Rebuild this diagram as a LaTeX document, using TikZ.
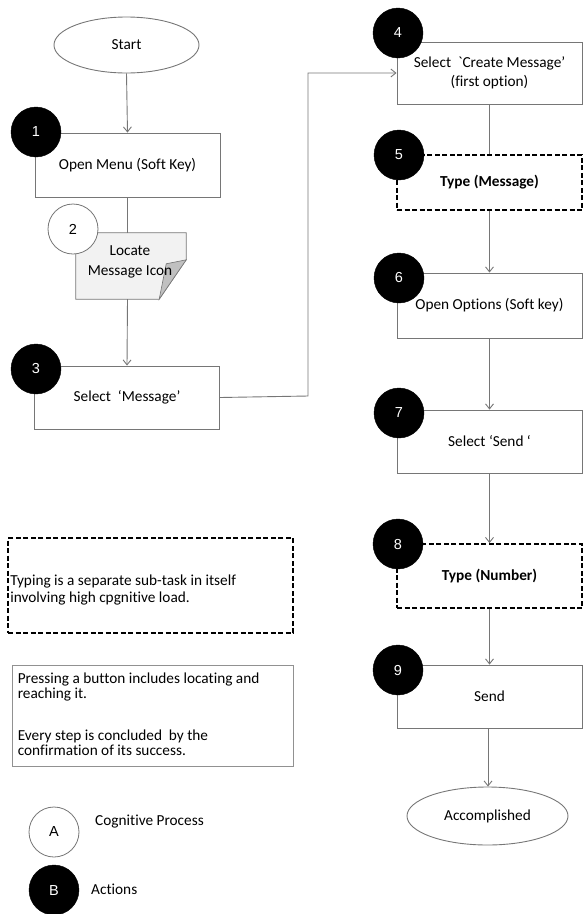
\documentclass[tikz,border=0pt]{standalone}
\usepackage{fontspec}
\setmainfont{Carlito}[Ligatures={NoCommon}]
\newfontfamily\rawfont{Carlito}[Ligatures={NoCommon}]
\newfontfamily\numfont{Liberation Sans}
\usetikzlibrary{arrows.meta,shapes.geometric}
\definecolor{linegray}{RGB}{118,118,118}
\definecolor{notefill}{RGB}{242,242,242}
\definecolor{foldfill}{RGB}{192,192,192}
\tikzset{
  base/.style={font=\fontsize{15.3}{19}\selectfont, inner sep=0pt},
  stepbox/.style={base, draw=linegray, line width=0.9pt, minimum width=185pt, align=center},
  typebox/.style={base, draw=black, line width=1.8pt, dash pattern=on 5pt off 2.5pt,
                  minimum width=185pt, align=center, font=\fontsize{15.3}{19}\selectfont\bfseries},
  terminal/.style={base, ellipse, draw=linegray, line width=0.9pt},
  action/.style={circle, fill=black, draw=black, minimum size=50pt, inner sep=0pt,
                 text=white, font=\numfont\fontsize{14.5}{16}\selectfont},
  cognitive/.style={circle, fill=white, draw=linegray, line width=0.8pt, minimum size=50pt,
                    inner sep=0pt, font=\numfont\fontsize{14.5}{16}\selectfont},
  flow/.style={draw=linegray, line width=0.9pt},
  arrowflow/.style={flow, -{Straight Barb[length=5pt,width=8pt]}},
  legendtext/.style={base, anchor=west},
}
\begin{document}
\begin{tikzpicture}[x=1pt,y=-1pt]
\useasboundingbox (0,0) rectangle (584,914);

% ---- left column ----
\node[terminal, minimum width=145pt, minimum height=56pt] (start) at (126.5,45) {Start};
\node[stepbox, minimum height=64pt] (b1) at (127.5,165) {Open Menu (Soft Key)};
\node[base, minimum width=110pt, minimum height=66pt] (note) at (131,266) {};
\node[stepbox, minimum height=63pt] (b3) at (127,397.5) {Select\ \ ‘Message’};

% folded note for the cognitive step
\coordinate (fold1) at ([yshift=-27pt]note.north east);
\coordinate (fold2) at ([xshift=-27pt]note.south east);
\fill[notefill, draw=linegray, line width=0.8pt]
  (note.north west) -- (note.north east) -- (fold1) -- (fold2) -- (note.south west) -- cycle;
\fill[foldfill, draw=linegray, line width=0.6pt]
  (fold1) -- ([xshift=-20pt,yshift=-31pt]note.north east) -- (fold2) -- cycle;
\node[base, align=center, font=\fontsize{15.3}{20}\selectfont] (notetext) at (130,262) {Locate\\Message Icon};

% ---- right column ----
\node[stepbox, minimum height=62pt] (b4) at (489.5,73) {Select\ \ {\rawfont`}Create Message’\\(first option)};
\node[typebox, minimum height=55pt] (b5) at (489.5,182.5) {\raisebox{-4pt}{Type (Message)}};
\node[stepbox, minimum height=65pt] (b6) at (489.5,305.5) {Open Options (Soft key)};
\node[stepbox, minimum height=63pt] (b7) at (489.5,441.5) {Select ‘Send ‘};
\node[typebox, minimum height=64pt] (b8) at (489.5,576) {Type (Number)};
\node[stepbox, minimum height=63pt] (b9) at (489.5,696.5) {Send};
\node[terminal, minimum width=161pt, minimum height=58pt] (acc) at (487.5,816) {Accomplished};

% ---- connectors ----
\draw[arrowflow] (start.south) -- (b1.north);
\draw[flow] (b1.south) -- (b1.south |- note.north);
\draw[arrowflow] (b1.south |- note.south) -- (b3.north);
\coordinate (bend) at (308,396);
\draw[arrowflow] (b3.east) -- (bend) |- (b4.west);
\draw[flow] (b4.south) -- (b5.north);
\draw[arrowflow] (b5.south) -- (b6.north);
\draw[arrowflow] (b6.south) -- (b7.north);
\draw[arrowflow] (b7.south) -- (b8.north);
\draw[arrowflow] (b8.south) -- (b9.north);
\draw[arrowflow] ([xshift=-1.5pt]b9.south) -- ([xshift=-1.5pt]b9.south |- acc.north);

% ---- step markers ----
\node[action] (s1) at (36,132) {1};
\node[cognitive] (s2) at (73,229) {2};
\node[action] (s3) at (36,369) {3};
\node[action] (s4) at (398,33) {4};
\node[action] (s5) at (399,155) {5};
\node[action] (s6) at (399,278) {6};
\node[action] (s7) at (399,413) {7};
\node[action] (s8) at (398,544) {8};
\node[action] (s9) at (398,670) {9};

% ---- notes ----
\node[base, draw=black, line width=1.8pt, dash pattern=on 5pt off 2.5pt,
      minimum width=285pt, minimum height=95pt] (typenote) at (150.5,585.5) {};
\node[base, anchor=west, align=left, font=\fontsize{15.3}{17}\selectfont] (typenotetext)
  at ([xshift=3pt,yshift=-4pt]typenote.west)
  {Typing is a separate sub-task in itself\\involving high cpgnitive load.};

\node[base, draw=linegray!80, line width=0.8pt, minimum width=281pt, minimum height=101pt] (pressnote) at (152.5,715.5) {};
\node[base, anchor=north west, align=left, font=\fontsize{15.3}{15}\selectfont] (pressnotetext)
  at ([xshift=6pt,yshift=-8pt]pressnote.north west)
  {Pressing a button includes locating and\\reaching it.\\[27pt]Every step is concluded\ \ by the\\confirmation of its success.};

% ---- legend ----
\node[cognitive] (legA) at (54,832) {A};
\node[legendtext] (legAtext) at (95,822) {Cognitive Process};
\node[action] (legB) at (54,890) {B};
\node[legendtext] (legBtext) at (91,889) {Actions};
\end{tikzpicture}
\end{document}
